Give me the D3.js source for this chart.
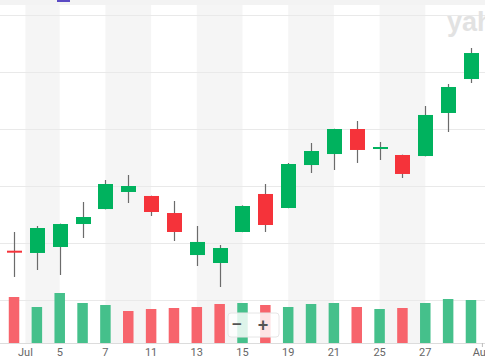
<!DOCTYPE html>
<html><head><meta charset="utf-8">
<script src="https://cdn.jsdelivr.net/npm/d3@7"></script>
<style>html,body{margin:0;padding:0;background:#fff;overflow:hidden}</style>
</head><body>
<svg id="c" width="485" height="360"></svg>
<script>
const dates = ["2022-06-30","2022-07-01","2022-07-05","2022-07-06","2022-07-07","2022-07-08","2022-07-11","2022-07-12","2022-07-13","2022-07-14","2022-07-15","2022-07-18","2022-07-19","2022-07-20","2022-07-21","2022-07-22","2022-07-25","2022-07-26","2022-07-27","2022-07-28","2022-07-29"];
const openV  = [138.65,138.25,139.30,143.33,145.96,148.95,148.25,145.26,137.89,136.49,141.93,148.60,146.14,153.68,155.61,160.00,156.75,155.44,155.26,162.81,168.77];
const highV  = [141.93,142.98,143.40,147.19,151.05,151.93,148.30,147.37,142.98,139.65,146.60,150.35,154.04,157.54,160.05,161.40,157.72,155.50,164.04,167.89,174.21];
const lowV   = [134.04,135.26,134.39,140.88,145.90,147.02,144.74,140.35,135.96,132.28,141.90,141.93,146.10,152.28,152.81,154.04,154.56,151.40,155.20,159.47,168.07];
const closeV = [138.55,142.63,143.33,144.56,150.35,150.00,145.44,141.93,140.18,139.12,146.49,143.16,153.86,156.14,160.00,156.32,156.84,152.11,162.46,167.37,173.33];
const volumeV = [46,36,50,40,38,32,34,35,36,39,40,38,36,39,40,36,34,35,40,44,43];
const prevCloseStart = 139.5;
const tickLabels = ["Jul","5","7","11","13","15","19","21","25","27","Aug"];
const tickDates  = ["2022-07-01","2022-07-05","2022-07-07","2022-07-11","2022-07-13","2022-07-15","2022-07-19","2022-07-21","2022-07-25","2022-07-27","2022-08-01"];
const priceTicks = [130,140,150,160,170,180];

const svg = d3.select("#c");
const W = 485, H = 360, axisY = 343;
const x = d3.scaleBand().domain(dates).range([2.6, 482.4]).padding(0);
const bw = x.bandwidth();
const y = d3.scaleLinear().domain([130,180]).range([300,15]);
const yv = d3.scaleLinear().domain([0,50]).range([axisY, axisY-50]);

function tickX(d, i){
  if (dates.includes(d)) {
    // month labels sit on the day boundary, day labels at candle centre
    return tickLabels[i].length === 3 && isNaN(+tickLabels[i]) ? x(d) : x(d) + bw/2;
  }
  return x.range()[1];
}
const tx = tickDates.map((d,i)=>tickX(d,i));

// top strip
svg.append("rect").attr("x",0).attr("y",0).attr("width",W).attr("height",5).attr("fill","#f3f3f3");
svg.append("rect").attr("x",57).attr("y",0).attr("width",13).attr("height",2).attr("fill","#5b4bc4");

// alternating stripes
const stripes = [];
for (let i=0;i<tx.length-1;i+=2) stripes.push([tx[i], tx[i+1]]);
svg.append("g").selectAll("rect").data(stripes).join("rect")
  .attr("x",d=>d[0]).attr("y",5).attr("width",d=>d[1]-d[0]).attr("height",axisY-5)
  .attr("fill","#f5f5f5");

// gridlines
svg.append("g").selectAll("line").data(priceTicks).join("line")
  .attr("x1",0).attr("x2",W).attr("y1",d=>Math.round(y(d))+0.5).attr("y2",d=>Math.round(y(d))+0.5)
  .attr("stroke","#e9e9e9").attr("stroke-width",1);

// logo
svg.append("text").attr("x",447).attr("y",31).text("yahoo!")
  .attr("font-family","Liberation Sans, Arial, sans-serif").attr("font-weight","bold")
  .attr("font-size",27).attr("fill","#e2e2e2");

// volume
const green = "#00b25e", red = "#f5333a";
const volUp = volumeV.map((v,i)=> closeV[i] >= (i===0 ? prevCloseStart : closeV[i-1]));
const vw = 10.5;
svg.append("g").selectAll("rect").data(volumeV).join("rect")
  .attr("x",(d,i)=>x(dates[i])+bw/2-vw/2).attr("width",vw)
  .attr("y",d=>yv(d)).attr("height",d=>axisY-yv(d))
  .attr("fill",(d,i)=>volUp[i]?"#45c08b":"#f7646c");

// axis line
svg.append("line").attr("x1",0).attr("x2",W).attr("y1",axisY+0.5).attr("y2",axisY+0.5).attr("stroke","#dcdcdc");
svg.append("line").attr("x1",tx[tx.length-1]).attr("x2",tx[tx.length-1]).attr("y1",axisY).attr("y2",axisY+4).attr("stroke","#bbb");

// candles
const cw = 15;
const g = svg.append("g");
dates.forEach((d,i)=>{
  const cx = Math.round(x(d)+bw/2)+0.5;
  const up = closeV[i] >= openV[i];
  g.append("line").attr("x1",cx).attr("x2",cx).attr("y1",y(highV[i])).attr("y2",y(lowV[i]))
    .attr("stroke","#6b6b6b").attr("stroke-width",1.2);
  const top = y(Math.max(openV[i],closeV[i])), bot = y(Math.min(openV[i],closeV[i]));
  g.append("rect").attr("x",cx-cw/2).attr("width",cw)
    .attr("y",top).attr("height",Math.max(2,bot-top))
    .attr("fill",up?green:red);
});

// x labels
svg.append("g").selectAll("text").data(tickLabels).join("text")
  .attr("x",(d,i)=>tx[i]).attr("y",356).attr("text-anchor","middle")
  .attr("font-family","Roboto, Liberation Sans, sans-serif").attr("font-size",11)
  .attr("fill","#666").text(d=>d);

// zoom buttons
const zb = svg.append("g");
zb.append("rect").attr("x",228).attr("y",313).attr("width",51).attr("height",24).attr("rx",3)
  .attr("fill","#fff").attr("fill-opacity",0.82).attr("stroke","#e6e6e6");
zb.append("text").attr("x",237).attr("y",330).attr("text-anchor","middle").text("−")
  .attr("font-family","Liberation Sans, sans-serif").attr("font-size",17).attr("font-weight","bold").attr("fill","#555");
zb.append("text").attr("x",263).attr("y",331).attr("text-anchor","middle").text("+")
  .attr("font-family","Liberation Sans, sans-serif").attr("font-size",18).attr("font-weight","bold").attr("fill","#555");
</script>
</body></html>
